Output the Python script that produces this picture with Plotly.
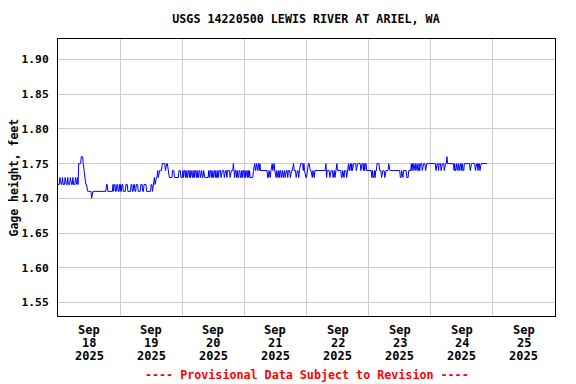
import pandas as pd
import plotly.graph_objects as go

# Gage height, feet, 15-minute values, one list per day (Sep 18 .. Sep 24, 2025)
sep18 = [1.72,1.72,1.72,1.73,1.72,1.72,1.72,1.73,1.72,1.72,1.72,1.73,1.72,1.72,1.72,1.73,
         1.72,1.72,1.72,1.73,1.72,1.72,1.72,1.73,1.72,1.72,1.72,1.73,1.72,1.72,1.73,1.72,
         1.75,1.75,1.75,1.75,1.76,1.76,1.76,1.75,1.74,1.73,1.73,1.72,1.72,1.71,1.71,1.71,
         1.71,1.71,1.71,1.71,1.70,1.71,1.71,1.71,1.71,1.71,1.71,1.71,1.71,1.71,1.71,1.71,
         1.71,1.71,1.71,1.71,1.71,1.71,1.71,1.71,1.71,1.71,1.71,1.72,1.72,1.71,1.71,1.71,
         1.71,1.71,1.71,1.71,1.71,1.72,1.71,1.72,1.72,1.71,1.71,1.72,1.72,1.71,1.71,1.72]
sep19 = [1.71,1.72,1.71,1.72,1.72,1.71,1.71,1.71,1.71,1.72,1.72,1.72,1.71,1.71,1.71,1.71,
         1.71,1.72,1.72,1.71,1.71,1.72,1.72,1.71,1.71,1.72,1.72,1.72,1.71,1.71,1.71,1.71,
         1.72,1.72,1.72,1.71,1.71,1.72,1.72,1.72,1.72,1.71,1.71,1.71,1.71,1.71,1.71,1.71,
         1.72,1.72,1.71,1.72,1.72,1.73,1.72,1.73,1.73,1.73,1.74,1.73,1.74,1.74,1.74,1.74,
         1.74,1.75,1.75,1.75,1.75,1.75,1.74,1.75,1.75,1.75,1.74,1.73,1.73,1.73,1.73,1.73,
         1.73,1.74,1.74,1.74,1.73,1.73,1.73,1.73,1.73,1.73,1.73,1.74,1.74,1.74,1.73,1.73]
sep20 = [1.73,1.74,1.73,1.74,1.74,1.73,1.74,1.73,1.73,1.74,1.74,1.73,1.74,1.73,1.74,1.74,
         1.73,1.73,1.74,1.73,1.74,1.74,1.73,1.74,1.73,1.73,1.74,1.74,1.73,1.74,1.74,1.73,
         1.73,1.74,1.73,1.73,1.73,1.73,1.73,1.73,1.73,1.74,1.73,1.74,1.74,1.73,1.74,1.73,
         1.73,1.74,1.74,1.73,1.74,1.73,1.73,1.74,1.73,1.74,1.74,1.74,1.73,1.74,1.74,1.74,
         1.74,1.73,1.74,1.74,1.74,1.73,1.74,1.74,1.74,1.74,1.73,1.74,1.74,1.74,1.74,1.75,
         1.74,1.73,1.74,1.74,1.73,1.74,1.73,1.73,1.74,1.74,1.73,1.73,1.74,1.73,1.74,1.74]
sep21 = [1.73,1.74,1.73,1.74,1.74,1.73,1.74,1.73,1.74,1.73,1.73,1.73,1.73,1.73,1.74,1.75,
         1.75,1.74,1.75,1.75,1.74,1.75,1.75,1.74,1.75,1.74,1.74,1.74,1.74,1.74,1.74,1.74,
         1.74,1.74,1.74,1.74,1.73,1.73,1.74,1.73,1.73,1.74,1.75,1.75,1.74,1.75,1.75,1.74,
         1.73,1.73,1.74,1.73,1.73,1.74,1.73,1.74,1.74,1.73,1.74,1.74,1.73,1.74,1.74,1.73,
         1.74,1.74,1.74,1.73,1.74,1.74,1.74,1.73,1.74,1.74,1.74,1.75,1.75,1.74,1.74,1.74,
         1.73,1.74,1.74,1.74,1.73,1.74,1.75,1.75,1.75,1.75,1.75,1.74,1.75,1.74,1.73,1.73]
sep22 = [1.73,1.74,1.75,1.75,1.75,1.74,1.74,1.74,1.73,1.73,1.74,1.73,1.73,1.74,1.74,1.74,
         1.74,1.74,1.74,1.74,1.74,1.74,1.74,1.74,1.74,1.74,1.74,1.74,1.74,1.74,1.75,1.73,
         1.74,1.74,1.74,1.74,1.73,1.74,1.74,1.74,1.74,1.73,1.74,1.74,1.73,1.74,1.74,1.75,
         1.74,1.74,1.74,1.74,1.74,1.74,1.73,1.73,1.74,1.73,1.73,1.74,1.74,1.74,1.73,1.74,
         1.74,1.75,1.74,1.75,1.75,1.74,1.75,1.74,1.75,1.75,1.75,1.75,1.75,1.74,1.75,1.75,
         1.75,1.75,1.75,1.75,1.74,1.75,1.75,1.75,1.74,1.75,1.74,1.75,1.75,1.74,1.74,1.74]
sep23 = [1.74,1.74,1.74,1.74,1.74,1.73,1.74,1.73,1.73,1.74,1.73,1.74,1.74,1.75,1.75,1.75,
         1.75,1.74,1.74,1.74,1.73,1.74,1.74,1.74,1.74,1.73,1.74,1.74,1.74,1.74,1.74,1.75,
         1.74,1.74,1.74,1.74,1.74,1.74,1.74,1.74,1.74,1.74,1.74,1.74,1.74,1.74,1.74,1.74,
         1.74,1.73,1.73,1.74,1.73,1.73,1.74,1.74,1.74,1.74,1.74,1.73,1.73,1.73,1.74,1.74,
         1.74,1.74,1.75,1.74,1.75,1.75,1.74,1.75,1.75,1.74,1.75,1.75,1.74,1.74,1.75,1.74,
         1.75,1.75,1.75,1.74,1.75,1.75,1.75,1.75,1.74,1.75,1.75,1.75,1.75,1.75,1.75,1.75]
sep24 = [1.75,1.75,1.75,1.75,1.75,1.75,1.75,1.75,1.74,1.75,1.75,1.75,1.74,1.75,1.75,1.75,
         1.74,1.75,1.75,1.75,1.75,1.74,1.75,1.75,1.75,1.76,1.75,1.75,1.75,1.75,1.75,1.75,
         1.75,1.75,1.75,1.75,1.74,1.75,1.74,1.74,1.75,1.74,1.74,1.75,1.74,1.74,1.75,1.75,
         1.74,1.75,1.74,1.74,1.75,1.75,1.75,1.75,1.75,1.75,1.75,1.75,1.75,1.74,1.75,1.75,
         1.75,1.75,1.75,1.75,1.75,1.74,1.75,1.75,1.75,1.74,1.75,1.75,1.74,1.75,1.75,1.75,
         1.75,1.75,1.75,1.75,1.75,1.75,1.75,1.75]

heights = sep18 + sep19 + sep20 + sep21 + sep22 + sep23 + sep24
times = pd.date_range("2025-09-18 00:00", periods=len(heights), freq="15min")

day_starts = pd.date_range("2025-09-18", "2025-09-26", freq="D")
label_days = pd.date_range("2025-09-18 12:00", periods=8, freq="D")
label_month = ["Sep"] * 8
label_day = ["18", "19", "20", "21", "22", "23", "24", "25"]
label_year = ["2025"] * 8
y_ticks = [1.55, 1.60, 1.65, 1.70, 1.75, 1.80, 1.85, 1.90]

FONT = "DejaVu Sans Mono"
BOLD = dict(family=FONT, size=12, weight="bold", color="black")
PLOT_W, PLOT_H = 497, 277
# the page body has an 8px margin, so the figure sits at (8, 8) in the window
OFF = 8

fig = go.Figure()
fig.add_trace(go.Scatter(x=times, y=heights, mode="lines",
                         line=dict(color="#0000ff", width=1), showlegend=False))

fig.update_layout(
    width=576 - OFF, height=384 - OFF,
    margin=dict(l=50, r=21, t=31, b=68, autoexpand=False),
    paper_bgcolor="white", plot_bgcolor="white",
    font=dict(family=FONT, size=12, color="black"),
    title=dict(text="USGS 14220500 LEWIS RIVER AT ARIEL, WA",
               font=dict(family=FONT, size=11.7, weight="bold", color="black"),
               x=(306 - OFF) / (576 - OFF), xanchor="center",
               y=1 - (19 - OFF) / (384 - OFF), yanchor="middle"),
)
fig.update_xaxes(
    type="date", range=[day_starts[0], day_starts[-1]],
    tickmode="array", tickvals=label_days, ticktext=[""] * 8,
    showgrid=False, ticks="", automargin=False,
    showline=True, linecolor="black", linewidth=1, mirror=True,
    minor=dict(tickmode="array", tickvals=day_starts, showgrid=True,
               gridcolor="#cccccc", gridwidth=1, ticks=""),
    zeroline=False,
)
fig.update_yaxes(
    range=[1.5305, 1.9295], automargin=False,
    tickmode="array", tickvals=y_ticks, tickformat=".2f",
    showgrid=True, gridcolor="#cccccc", gridwidth=1,
    ticks="", ticklabelstandoff=6,
    tickfont=dict(family=FONT, size=11.3, weight="bold", color="black"),
    showline=True, linecolor="black", linewidth=1, mirror=True,
    zeroline=False,
)
# y-axis title
fig.add_annotation(text="Gage height, feet", textangle=-90,
                   xref="paper", yref="paper", x=-(58.5 - 13.5) / PLOT_W, y=0.5,
                   xanchor="center", yanchor="middle", showarrow=False,
                   font=dict(family=FONT, size=11.5, weight="bold", color="black"))
for rows, ypix in ((label_month, 330), (label_day, 343), (label_year, 356)):
    for xd, txt in zip(label_days, rows):
        fig.add_annotation(text=txt, x=xd, xref="x", yref="paper",
                           y=-(ypix - 316) / PLOT_H, xanchor="center", yanchor="middle",
                           showarrow=False, font=BOLD)
fig.add_annotation(text="---- Provisional Data Subject to Revision ----",
                   xref="paper", yref="paper", x=0.5, y=-(375 - 316) / PLOT_H,
                   xanchor="center", yanchor="middle", showarrow=False,
                   font=dict(family=FONT, size=11.7, color="red", weight="bold"))

fig.write_html("out.html")
